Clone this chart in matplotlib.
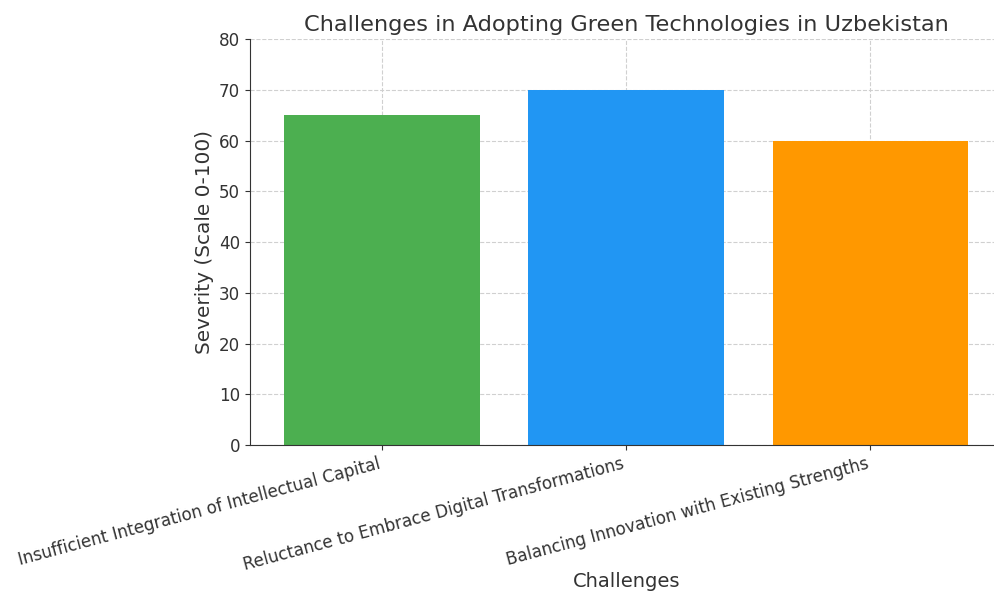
import matplotlib.pyplot as plt

challenges = [
    "Insufficient Integration of Intellectual Capital",
    "Reluctance to Embrace Digital Transformations",
    "Balancing Innovation with Existing Strengths",
]
severity = [65, 70, 60]
bar_colors = ["#4CAF50", "#2196F3", "#FF9800"]
y_ticks = [0, 10, 20, 30, 40, 50, 60, 70, 80]

fig = plt.figure(figsize=(9.95, 5.97), dpi=100)
ax = fig.add_axes([0.2513, 0.2546, 0.756, 0.68])

ax.bar(challenges, severity, color=bar_colors, width=0.8, zorder=2)

ax.set_ylim(0, 80)
ax.set_yticks(y_ticks)
ax.tick_params(axis="both", labelsize=12.1, colors="#333333")
plt.setp(ax.get_xticklabels(), rotation=15, ha="right")

ax.grid(True, linestyle="--", color="#d0d0d0", linewidth=0.8, zorder=0)
ax.set_axisbelow(True)
for side in ["top", "right"]:
    ax.spines[side].set_visible(False)
for side in ["left", "bottom"]:
    ax.spines[side].set_color("#333333")

ax.set_title("Challenges in Adopting Green Technologies in Uzbekistan",
             fontsize=16.2, color="#333333")
ax.set_xlabel("Challenges", fontsize=14, color="#333333")
ax.xaxis.set_label_coords(0.5, -0.313)
ax.set_ylabel("Severity (Scale 0-100)", fontsize=14.4, color="#333333")

fig.savefig("out.png", dpi=100)
